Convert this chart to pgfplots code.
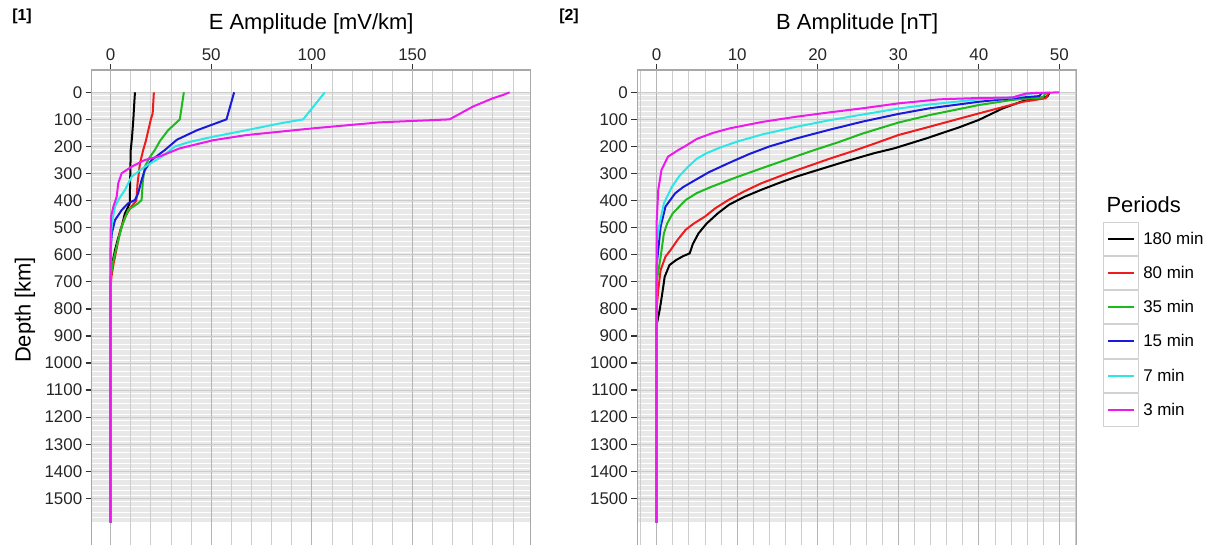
\documentclass[border=0pt]{standalone}
\usepackage{pgfplots}
\pgfplotsset{compat=1.18}
\usepackage{fontspec}
\setmainfont{Liberation Sans}
\definecolor{cBlack}{HTML}{000000}
\definecolor{cRed}{HTML}{EE1C1C}
\definecolor{cGreen}{HTML}{1DBA1D}
\definecolor{cBlue}{HTML}{1A1ADC}
\definecolor{cCyan}{HTML}{2EE6E6}
\definecolor{cMag}{HTML}{EC1AEC}
\definecolor{band}{HTML}{E8E8E8}
\definecolor{gridmin}{HTML}{CDCDCD}
\definecolor{gridmaj}{HTML}{B5B5B5}
\definecolor{gridy}{HTML}{CBCBCB}
\definecolor{framec}{HTML}{A8A8A8}
\definecolor{tickc}{HTML}{333333}

\pgfplotsset{
  panel/.style={
    set layers,
    scale only axis,
    width=439bp, height=477.1bp,
    y dir=reverse,
    ymin=-82.4, ymax=1680,
    ytick={0,100,...,1500},
    xtick pos=right, xticklabel pos=right,
    ytick pos=left,
    tick align=outside,
    major tick length=6bp,
    minor tick length=0pt,
    every tick/.style={tickc, line width=1.3bp},
    axis line style={framec, line width=1.3bp},
    xmajorgrids, xminorgrids, ymajorgrids,
    major x grid style={gridmaj, line width=1bp},
    minor x grid style={gridmin, line width=0.8bp},
    major y grid style={gridy, line width=0.8bp},
    tick label style={font=\fontsize{17}{17}\selectfont, text=black!85},
    /pgf/number format/assume math mode=true,
    /pgf/number format/1000 sep={},
    every axis plot/.append style={line width=2bp, line join=round, mark=none},
  },
}

\begin{document}
\begin{tikzpicture}

% ---------------- Panel 1 : E amplitude ----------------
\begin{axis}[panel,
  at={(91.7bp,475bp)}, anchor=north west,
  xmin=-9.4, xmax=208.8,
  xtick={0,50,100,150},
  minor xtick={-10,10,20,30,40,60,70,80,90,110,120,130,140,160,170,180,190,200},
]
\begin{pgfonlayer}{axis background}
\fill[band] (axis cs:-9.4,0) rectangle (axis cs:208.8,1586);
\pgfplotsinvokeforeach{10,30,...,1570}{\draw[white, line width=0.5bp] (axis cs:-9.4,#1) -- (axis cs:208.8,#1);}
\draw[black!38, line width=0.8bp] (axis cs:-9.4,700) -- (axis cs:208.8,700);
\end{pgfonlayer}
\addplot[cBlack] coordinates {(12.1,0) (11.6,60) (11.3,100) (10.6,170) (10.0,213) (9.5,410) (7,450) (5.5,497) (3.5,545) (2.2,583) (0.6,640) (0,700) (0,1590)};
\addplot[cRed] coordinates {(21.5,0) (20.9,78) (20,100) (17.5,180) (16.2,213) (14.6,262) (13.4,336) (12.8,400) (10,425) (7.3,459) (4.8,508) (3.2,570) (1.5,632) (0.4,681) (0,720) (0,1590)};
\addplot[cGreen] coordinates {(36.4,0) (34.4,100) (28.6,140) (24.5,180) (22,213) (19,245) (17,275) (16,330) (15.4,398) (13.7,410) (8.7,435) (5.5,497) (3,570) (1.4,620) (0,680) (0,1590)};
\addplot[cBlue] coordinates {(61.4,0) (57.6,100) (43,140) (33,175) (27,213) (20.4,250) (17,287) (15.4,324) (13.7,373) (12.1,398) (8.7,410) (5.5,435) (2.2,472) (0.6,521) (0,583) (0,1590)};
\addplot[cCyan] coordinates {(106.5,0) (95.7,100) (84.1,115) (67.5,140) (51,164) (39.4,183) (32,200) (25.4,238) (17,275) (10.4,312) (7.1,361) (3.8,398) (2.2,422) (0.6,484) (0,558) (0,1590)};
\addplot[cMag] coordinates {(198.3,0) (195,10) (190,22) (180,53) (168.5,100) (133.8,111) (100.7,133) (67.5,158) (51,177) (34.4,207) (25,235) (17,250) (10.4,275) (5.5,299) (3.8,336) (3.0,386) (1.4,422) (0.2,459) (0,521) (0,1590)};
\end{axis}

% ---------------- Panel 2 : B amplitude ----------------
\begin{axis}[panel,
  at={(637.3bp,475bp)}, anchor=north west,
  xmin=-2.4, xmax=52.1,
  xtick={0,10,...,50},
  minor xtick={-2,2,4,6,8,12,14,16,18,22,24,26,28,32,34,36,38,42,44,46,48,52},
  legend style={at={(1.0614,0.682)}, anchor=north west, draw=none, fill=none,
    inner sep=0pt, outer sep=0pt, row sep=0pt, column sep=4.3bp,
    font=\fontsize{17}{17}\selectfont, nodes={inner sep=0pt}},
  legend cell align=left,
  legend image code/.code={
    \draw[draw=black!18, line width=1bp, fill=white] (0bp,-16.6bp) rectangle (34.7bp,16.6bp);
    \draw[#1, line width=2bp] (4bp,0bp) -- (30.7bp,0bp);
  },
]
\begin{pgfonlayer}{axis background}
\fill[band] (axis cs:-2.4,0) rectangle (axis cs:52.1,1586);
\pgfplotsinvokeforeach{10,30,...,1570}{\draw[white, line width=0.5bp] (axis cs:-2.4,#1) -- (axis cs:52.1,#1);}
\draw[black!38, line width=0.8bp] (axis cs:-2.4,700) -- (axis cs:52.1,700);
\end{pgfonlayer}
\addplot[cBlack] coordinates {(48.8,0) (48.5,16) (45.9,28) (43,59) (40,102) (37.5,130) (33.5,170) (29.5,207) (27,225) (23.5,255) (20,287) (17.5,310) (15.1,336) (13,360) (10.9,386) (9,415) (7.6,447) (6.2,485) (5.2,521) (4.5,560) (4.1,595) (3.3,605) (2.4,620) (1.6,638) (1.0,681) (0.7,743) (0.4,800) (0,860) (0,1590)};
\addlegendentry{180 min}
\addplot[cRed] coordinates {(48.7,0) (48.3,22) (45.5,35) (40,78) (33.9,127) (30,158) (27,190) (24.2,219) (21.5,245) (19.2,269) (16,302) (13,336) (10.8,367) (8.9,398) (7.3,428) (6.0,459) (4.6,485) (3.6,508) (2.6,545) (1.75,582) (1.1,607) (0.5,656) (0.2,730) (0,800) (0,1590)};
\addlegendentry{80 min}
\addplot[cGreen] coordinates {(48.4,0) (47.9,19) (44.2,28) (40,47) (33.9,84) (30,112) (25.6,152) (22.5,185) (19.6,213) (16,250) (13,281) (9.8,315) (6.8,349) (5,372) (3.6,398) (2.0,447) (1.3,485) (0.9,521) (0.5,607) (0,700) (0,1590)};
\addlegendentry{35 min}
\addplot[cBlue] coordinates {(47.9,0) (47.5,14) (44.2,22) (40,35) (33.9,59) (30,80) (25.6,108) (21.5,138) (17.4,170) (14,200) (11.5,228) (8.9,262) (6.5,295) (4.8,324) (3.3,350) (2.3,373) (1.1,422) (0.5,496) (0.2,582) (0,640) (0,1590)};
\addlegendentry{15 min}
\addplot[cCyan] coordinates {(47.3,0) (46.3,6) (44.2,19) (40,26) (33.9,45) (30,60) (25.6,82) (21.5,103) (17.4,127) (13.2,155) (10,182) (7.8,205) (6.2,225) (5,245) (3.9,275) (2.8,310) (1.9,349) (0.9,410) (0.3,496) (0,560) (0,1590)};
\addlegendentry{7 min}
\addplot[cMag] coordinates {(50,0) (45.9,4) (44.2,19) (40,21) (35.1,26) (30,41) (25.6,59) (21.5,74) (17.4,90) (13.2,109) (9.1,133) (7,150) (5,172) (3.6,198) (2.7,213) (1.4,238) (0.6,287) (0.2,361) (0,480) (0,1590)};
\addlegendentry{3 min}
\end{axis}

% ---------------- Texts ----------------
\node[anchor=base, font=\bfseries\fontsize{16}{16}\selectfont] at (22bp,524bp) {[1]};
\node[anchor=base, font=\bfseries\fontsize{16}{16}\selectfont] at (569bp,524bp) {[2]};
\node[anchor=base, font=\fontsize{22}{22}\selectfont] at (311.2bp,515bp) {E Amplitude [mV/km]};
\node[anchor=base, font=\fontsize{22}{22}\selectfont] at (857.2bp,515bp) {B Amplitude [nT]};
\node[rotate=90, font=\fontsize{22}{22}\selectfont] at (25bp,235bp) {Depth [km]};
\node[anchor=base west, font=\fontsize{22}{22}\selectfont] at (1103bp,332bp) {Periods};

\pgfresetboundingbox
\path[use as bounding box] (0,0) rectangle (1215bp,545bp);
\end{tikzpicture}
\end{document}
